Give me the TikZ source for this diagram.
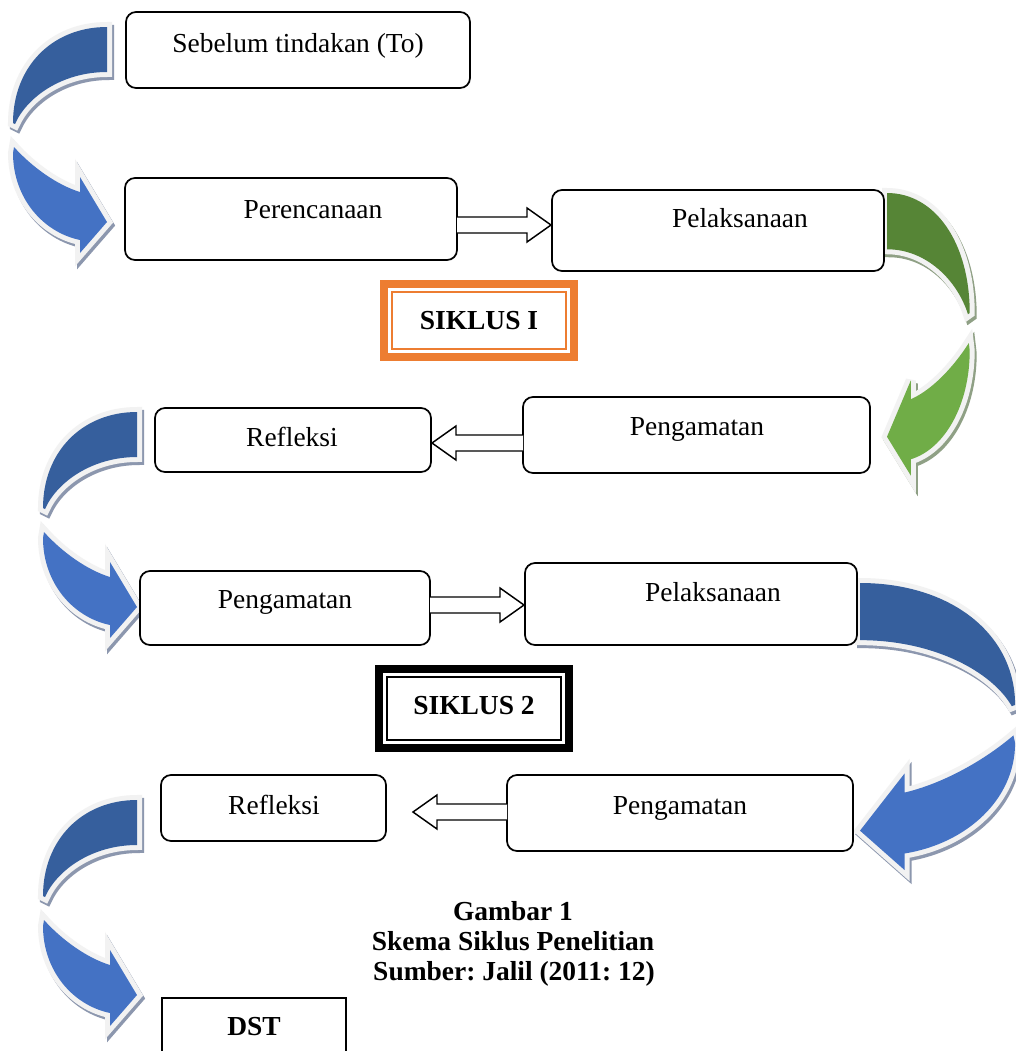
\documentclass[tikz,border=0pt]{standalone}
\usepackage{fontspec}
\setmainfont{Liberation Serif}
\frenchspacing
\usetikzlibrary{calc,fit}
\definecolor{dblue}{HTML}{365F9D}
\definecolor{lblue}{HTML}{4472C4}
\definecolor{dgreen}{HTML}{568536}
\definecolor{lgreen}{HTML}{70AD47}
\definecolor{outl}{HTML}{F2F2F2}
\definecolor{bshadow}{HTML}{8C97AE}
\definecolor{gshadow}{HTML}{8FA085}
\definecolor{sorange}{HTML}{ED7D31}

\newcommand{\UpperBand}[1]{\path[#1] (0,0) .. controls (-55,0) and (-94,40) .. (-94,96) -- (-92,97) .. controls (-80,70) and (-45,45) .. (0,45) -- cycle;}
\newcommand{\LowerBand}[1]{\path[#1] (-93,120) .. controls (-75,140) and (-50,158) .. (-27,165) -- (-27,150) -- (0,195) -- (-27,226) -- (-27,213) .. controls (-65,205) and (-94,170) .. (-94,126) -- cycle;}
\newcommand{\CurvedArrow}[7]{%
  \begin{scope}[shift={(2,3)}]
    \begin{scope}[shift={(#1,#2)},xscale=#3,yscale=#4]
      \UpperBand{fill=#7,draw=#7,line width=7.5pt,line join=miter,miter limit=5}
      \LowerBand{fill=#7,draw=#7,line width=7.5pt,line join=miter,miter limit=5}
    \end{scope}
  \end{scope}
  \begin{scope}[shift={(#1,#2)},xscale=#3,yscale=#4]
    \UpperBand{draw=outl,line width=7.5pt,line join=miter,miter limit=5}
    \UpperBand{fill=#5}
    \LowerBand{draw=outl,line width=7.5pt,line join=miter,miter limit=5}
    \LowerBand{fill=#6}
  \end{scope}}
\newcommand{\BlockArrow}[2]{%
  \coordinate (ba) at ($(#2)!18pt!(#1)$);
  \draw[blockarrow] ($(#1)!6pt!90:(#2)$) -- ($(ba)!6pt!90:(#2)$) -- ($(ba)!12.75pt!90:(#2)$) -- (#2)
     -- ($(ba)!12.75pt!-90:(#2)$) -- ($(ba)!6pt!-90:(#2)$) -- ($(#1)!6pt!-90:(#2)$);}

\tikzset{
  box/.style={draw=black, line width=1.3pt, rounded corners=7.5pt, fill=white, inner sep=0pt, outer sep=0pt},
  frame/.style={line width=6pt, inner sep=0pt, outer sep=0pt},
  lbl/.style={anchor=base, inner sep=0pt, font=\fontsize{20.6}{24}\selectfont},
  blbl/.style={anchor=base, inner sep=0pt, font=\fontsize{20.6}{24}\selectfont\bfseries},
  blockarrow/.style={draw=black, fill=white, line width=1.1pt, line join=miter},
}

\begin{document}
\begin{tikzpicture}[x=0.75pt,y=-0.75pt]
\path[use as bounding box, fill=white] (0,0) rectangle (1016,1051);

% curved arrows
\CurvedArrow{107}{27}{1}{1}{dblue}{lblue}{bshadow}
\CurvedArrow{137}{412}{1}{1}{dblue}{lblue}{bshadow}
\CurvedArrow{137}{800}{1}{1}{dblue}{lblue}{bshadow}
\CurvedArrow{887}{193}{-0.88}{1.25}{dgreen}{lgreen}{gshadow}
\CurvedArrow{860}{583}{-1.65}{1.27}{dblue}{lblue}{bshadow}

% boxes
\node[box, fit={(126,12) (470,88)}] (seb) {};
\node[lbl] (sebT) at (298,52) {Sebelum tindakan (To)};
\node[box, fit={(125,178) (457,260)}] (per) {};
\node[lbl] (perT) at (313,218) {Perencanaan};
\node[box, fit={(552,190) (884,271)}] (pel1) {};
\node[lbl] (pel1T) at (740,227) {Pelaksanaan};
\node[box, fit={(155,408) (431,472)}] (ref1) {};
\node[lbl] (ref1T) at (292,446) {Refleksi};
\node[box, fit={(523,397) (870,473)}] (pen1) {};
\node[lbl] (pen1T) at (697,435) {Pengamatan};
\node[box, fit={(140,571) (430,645)}] (pen2) {};
\node[lbl] (pen2T) at (285,608) {Pengamatan};
\node[box, fit={(525,563) (857,645)}] (pel2) {};
\node[lbl] (pel2T) at (713,601) {Pelaksanaan};
\node[box, fit={(161,775) (386,841)}] (ref2) {};
\node[lbl] (ref2T) at (274,814) {Refleksi};
\node[box, fit={(507,775) (853,851)}] (pen3) {};
\node[lbl] (pen3T) at (680,814) {Pengamatan};

% siklus boxes
\node[frame, draw=sorange, fit={(384,284) (574,357)}] (s1) {};
\draw[sorange, line width=1.5pt] ($(s1.north west)+(8,8)$) rectangle ($(s1.south east)+(-8,-8)$);
\node[blbl] (s1T) at (479,329) {SIKLUS I};
\node[frame, draw=black, fit={(379,669) (569,748)}] (s2) {};
\draw[black, line width=1.5pt] ($(s2.north west)+(8,8)$) rectangle ($(s2.south east)+(-8,-8)$);
\node[blbl] (s2T) at (474,714) {SIKLUS 2};

% block arrows
\coordinate (a1s) at ($(per.east)+(0,6)$);
\coordinate (a1t) at ($(pel1.west |- a1s)+(-1,0)$);
\BlockArrow{a1s}{a1t}
\coordinate (a2s) at ($(pen1.west)+(0,8)$);
\coordinate (a2t) at ($(ref1.east |- a2s)+(1,0)$);
\BlockArrow{a2s}{a2t}
\coordinate (a3s) at ($(pen2.east)+(0,-3)$);
\coordinate (a3t) at ($(pel2.west |- a3s)+(-1,0)$);
\BlockArrow{a3s}{a3t}
\coordinate (a4s) at ($(pen3.west)+(0,-1)$);
\coordinate (a4t) at ($(a4s)+(-94,0)$);
\BlockArrow{a4s}{a4t}

% caption
\node[blbl] (cap1) at (513,920) {Gambar 1};
\node[blbl] (cap2) at (513,950) {Skema Siklus Penelitian};
\node[blbl] (cap3) at (514,980) {Sumber: Jalil (2011: 12)};

% DST
\node[draw=black, line width=1.3pt, inner sep=0pt, outer sep=0pt, fit={(162,998) (346,1075)}] (dst) {};
\node[blbl] (dstT) at (254,1035) {DST};
\end{tikzpicture}
\end{document}
